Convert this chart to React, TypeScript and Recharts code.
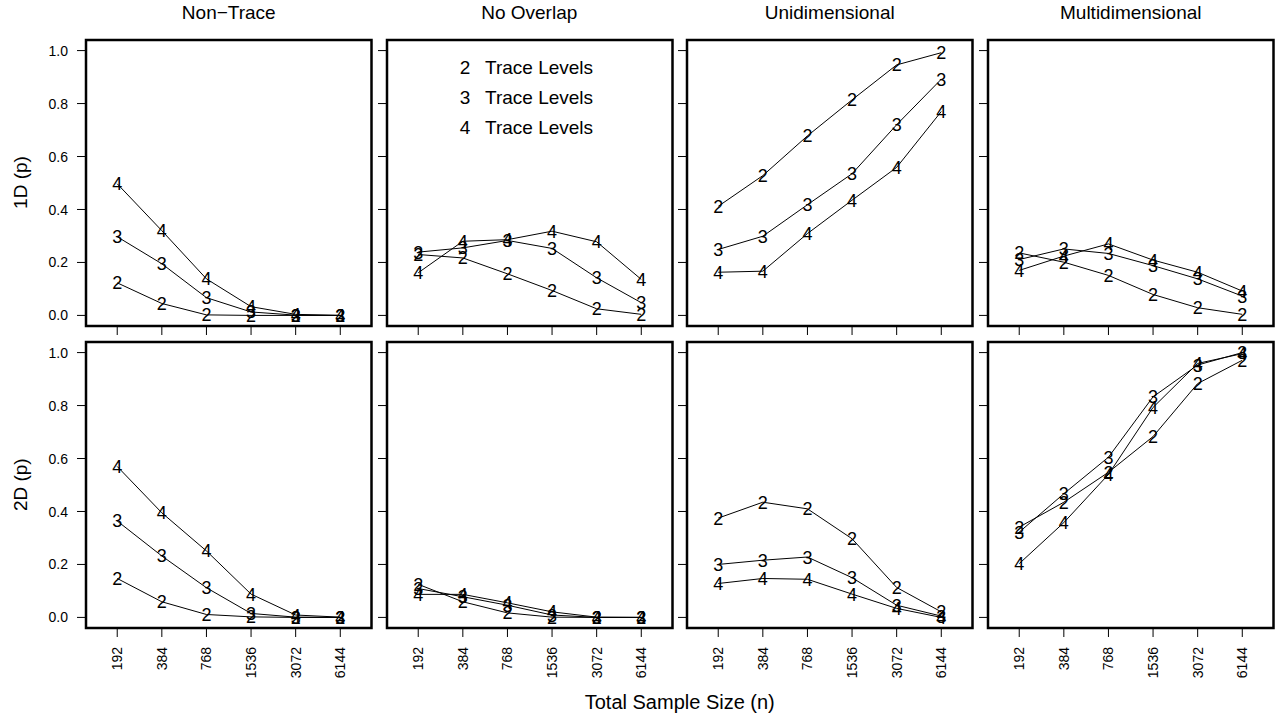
import React from 'react';
import { LineChart, Line, XAxis, YAxis, ReferenceArea } from 'recharts';

const sampleSizes = ['192', '384', '768', '1536', '3072', '6144'];
const yTicks = [0, 0.2, 0.4, 0.6, 0.8, 1.0];
const columnTitles = ['Non\u2212Trace', 'No Overlap', 'Unidimensional', 'Multidimensional'];
const rowLabels = ['1D (p)', '2D (p)'];
const levels = ['2', '3', '4'];

// 1D rows
const nonTrace1D_2 = [0.123, 0.045, 0.002, 0.0, 0.0, 0.0];
const nonTrace1D_3 = [0.297, 0.195, 0.067, 0.013, 0.001, 0.0];
const nonTrace1D_4 = [0.497, 0.32, 0.138, 0.033, 0.004, 0.0];

const noOverlap1D_2 = [0.23, 0.217, 0.157, 0.094, 0.025, 0.004];
const noOverlap1D_3 = [0.239, 0.255, 0.283, 0.253, 0.142, 0.048];
const noOverlap1D_4 = [0.161, 0.28, 0.286, 0.318, 0.278, 0.136];

const uni1D_2 = [0.412, 0.528, 0.678, 0.814, 0.946, 0.992];
const uni1D_3 = [0.249, 0.299, 0.418, 0.535, 0.72, 0.892];
const uni1D_4 = [0.163, 0.167, 0.309, 0.435, 0.559, 0.77];

const multi1D_2 = [0.236, 0.201, 0.151, 0.079, 0.029, 0.004];
const multi1D_3 = [0.211, 0.251, 0.234, 0.188, 0.138, 0.073];
const multi1D_4 = [0.17, 0.224, 0.27, 0.209, 0.163, 0.092];

// 2D rows
const nonTrace2D_2 = [0.147, 0.059, 0.011, 0.002, 0.0, 0.0];
const nonTrace2D_3 = [0.364, 0.232, 0.112, 0.015, 0.001, 0.0];
const nonTrace2D_4 = [0.57, 0.395, 0.251, 0.088, 0.009, 0.001];

const noOverlap2D_2 = [0.125, 0.059, 0.017, 0.001, 0.0, 0.0];
const noOverlap2D_3 = [0.109, 0.078, 0.046, 0.009, 0.0, 0.0];
const noOverlap2D_4 = [0.087, 0.087, 0.055, 0.021, 0.001, 0.0];

const uni2D_2 = [0.375, 0.435, 0.41, 0.297, 0.113, 0.021];
const uni2D_3 = [0.2, 0.216, 0.228, 0.15, 0.046, 0.005];
const uni2D_4 = [0.128, 0.147, 0.144, 0.088, 0.034, 0.0];

const multi2D_2 = [0.341, 0.435, 0.548, 0.683, 0.883, 0.971];
const multi2D_3 = [0.322, 0.467, 0.605, 0.833, 0.953, 1.0];
const multi2D_4 = [0.203, 0.358, 0.54, 0.793, 0.959, 0.996];

const panels = [
  [
    [nonTrace1D_2, nonTrace1D_3, nonTrace1D_4],
    [noOverlap1D_2, noOverlap1D_3, noOverlap1D_4],
    [uni1D_2, uni1D_3, uni1D_4],
    [multi1D_2, multi1D_3, multi1D_4],
  ],
  [
    [nonTrace2D_2, nonTrace2D_3, nonTrace2D_4],
    [noOverlap2D_2, noOverlap2D_3, noOverlap2D_4],
    [uni2D_2, uni2D_3, uni2D_4],
    [multi2D_2, multi2D_3, multi2D_4],
  ],
];

const FONT = '"Liberation Sans", Arial, Helvetica, sans-serif';
const boxLefts = [86, 386.5, 687, 988];
const boxTops = [39.5, 341.7];
const boxW = 285.5;
const boxH = 286;
const axisW = 60;
const axisH = 60;
const pad = 4;
const xDomain: [number, number] = [0.3, 6.7];
const yDomain: [number, number] = [-0.04, 1.04];

const digitDot = (digit: string) => (props: any) => {
  const { cx, cy, index } = props;
  return (
    <text
      key={`dot-${digit}-${index}`}
      x={cx}
      y={cy}
      dy="0.36em"
      textAnchor="middle"
      fontSize={18}
      fontFamily={FONT}
      fill="#000"
    >
      {digit}
    </text>
  );
};

const XTick = (props: any) => {
  const { x, y, payload, show } = props;
  if (!show) return <g />;
  return (
    <text
      x={x}
      y={y}
      dy="0.36em"
      transform={`rotate(-90 ${x} ${y})`}
      textAnchor="end"
      fontSize={14}
      fontFamily={FONT}
      fill="#000"
    >
      {sampleSizes[payload.value - 1]}
    </text>
  );
};

const YTick = (props: any) => {
  const { x, y, payload, show } = props;
  if (!show) return <g />;
  return (
    <text x={x} y={y} dy="0.36em" textAnchor="end" fontSize={14} fontFamily={FONT} fill="#000">
      {payload.value.toFixed(1)}
    </text>
  );
};

const Panel = ({ row, col }: { row: number; col: number }) => {
  const series = panels[row][col];
  const data = sampleSizes.map((s, i) => ({
    x: i + 1,
    l2: series[0][i],
    l3: series[1][i],
    l4: series[2][i],
  }));
  return (
    <div
      style={{
        position: 'absolute',
        left: boxLefts[col] - axisW,
        top: boxTops[row] - pad,
      }}
    >
      <LineChart
        width={axisW + boxW + pad}
        height={pad + boxH + axisH}
        data={data}
        margin={{ top: pad, right: pad, left: 0, bottom: 0 }}
      >
        <XAxis
          dataKey="x"
          type="number"
          domain={xDomain}
          allowDataOverflow
          ticks={[1, 2, 3, 4, 5, 6]}
          height={axisH}
          axisLine={false}
          tickLine={{ stroke: '#000', strokeWidth: 1 }}
          tickSize={9}
          tickMargin={10}
          tick={<XTick show={row === 1} />}
          interval={0}
        />
        <YAxis
          type="number"
          domain={yDomain}
          allowDataOverflow
          ticks={yTicks}
          width={axisW}
          axisLine={false}
          tickLine={{ stroke: '#000', strokeWidth: 1 }}
          tickSize={9}
          tickMargin={9}
          tick={<YTick show={col === 0} />}
          interval={0}
        />
        <ReferenceArea
          x1={xDomain[0]}
          x2={xDomain[1]}
          y1={yDomain[0]}
          y2={yDomain[1]}
          fill="none"
          stroke="#000"
          strokeWidth={2.5}
          ifOverflow="visible"
        />
        {levels.map((lv) => (
          <Line
            key={lv}
            type="linear"
            dataKey={`l${lv}`}
            stroke="#000"
            strokeWidth={1}
            dot={digitDot(lv)}
            activeDot={false}
            isAnimationActive={false}
          />
        ))}
      </LineChart>
    </div>
  );
};

const App = () => {
  return (
    <div
      style={{
        position: 'absolute',
        left: 0,
        top: 0,
        width: 1278,
        height: 719,
        background: '#fff',
        fontFamily: FONT,
      }}
    >
      {[0, 1].map((r) => [0, 1, 2, 3].map((c) => <Panel key={`${r}-${c}`} row={r} col={c} />))}
      <svg
        width={1278}
        height={719}
        style={{ position: 'absolute', left: 0, top: 0, pointerEvents: 'none' }}
      >
        {columnTitles.map((t, i) => (
          <text
            key={t}
            x={boxLefts[i] + boxW / 2}
            y={12}
            dy="0.36em"
            textAnchor="middle"
            fontSize={19}
            fontFamily={FONT}
            fill="#000"
          >
            {t}
          </text>
        ))}
        {rowLabels.map((t, i) => {
          const cy = boxTops[i] + boxH / 2;
          return (
            <text
              key={t}
              x={20}
              y={cy}
              dy="0.36em"
              transform={`rotate(-90 20 ${cy})`}
              textAnchor="middle"
              fontSize={19}
              fontFamily={FONT}
              fill="#000"
            >
              {t}
            </text>
          );
        })}
        <text
          x={(boxLefts[0] + boxLefts[3] + boxW) / 2}
          y={702}
          dy="0.36em"
          textAnchor="middle"
          fontSize={20}
          fontFamily={FONT}
          fill="#000"
        >
          Total Sample Size (n)
        </text>
        {levels.map((lv, i) => (
          <g key={lv}>
            <text x={465} y={67 + i * 30} dy="0.36em" textAnchor="middle" fontSize={19} fontFamily={FONT} fill="#000">
              {lv}
            </text>
            <text x={485} y={67 + i * 30} dy="0.36em" textAnchor="start" fontSize={19} fontFamily={FONT} fill="#000">
              Trace Levels
            </text>
          </g>
        ))}
      </svg>
    </div>
  );
};

export default App;
